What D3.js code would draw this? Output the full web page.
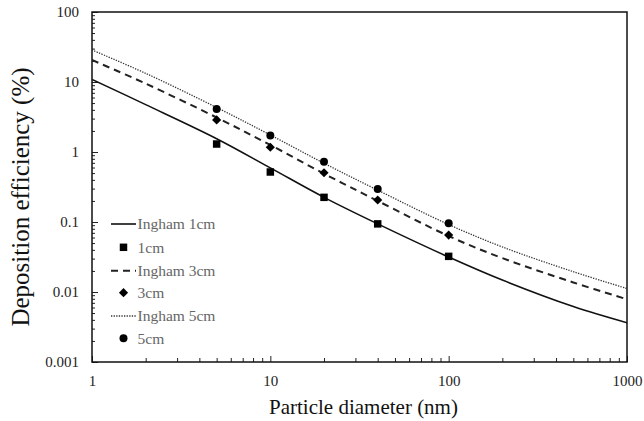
<!DOCTYPE html>
<html><head><meta charset="utf-8">
<script src="https://cdn.jsdelivr.net/npm/d3@7"></script>
<style>body{margin:0;background:#fff}svg{display:block}</style>
</head><body><svg id="c" width="644" height="421"></svg>
<script>
// Curve sample diameters (nm)
const curveD = [1, 2, 5, 10, 20, 40, 100, 200, 500, 1000];
const ingham1 = [10.9, 4.75, 1.55, 0.593, 0.225, 0.094, 0.0316, 0.0148, 0.0062, 0.00364];
const ingham3 = [20.6, 9.49, 3.11, 1.26, 0.49, 0.2, 0.063, 0.0305, 0.0137, 0.00787];
const ingham5 = [28.7, 13.3, 4.32, 1.75, 0.69, 0.285, 0.092, 0.044, 0.0195, 0.0112];
// Measured points
const measD = [5, 10, 20, 40, 100];
const meas1 = [1.30, 0.518, 0.225, 0.094, 0.0323];
const meas3 = [2.87, 1.17, 0.506, 0.206, 0.065];
const meas5 = [4.11, 1.72, 0.727, 0.296, 0.096];
const xTicks = [1, 10, 100, 1000];
const yTicks = [0.001, 0.01, 0.1, 1, 10, 100];
const legendLabels = ["Ingham 1cm", "1cm", "Ingham 3cm", "3cm", "Ingham 5cm", "5cm"];

const FONT = "Liberation Serif";
const svg = d3.select("#c");
const L = 92, R = 627, T = 12, B = 362;
const x = d3.scaleLog().domain([1, 1000]).range([L, R]);
const y = d3.scaleLog().domain([0.001, 100]).range([B, T]);

svg.append("clipPath").attr("id", "clip").append("rect")
  .attr("x", L).attr("y", T).attr("width", R - L).attr("height", B - T);

// minor ticks
const minorX = [];
for (let e = 0; e < 3; e++) for (let m = 2; m <= 9; m++) minorX.push(m * Math.pow(10, e));
const minorY = [];
for (let e = -3; e < 2; e++) for (let m = 2; m <= 9; m++) minorY.push(m * Math.pow(10, e));

const gx = svg.append("g").attr("transform", `translate(0,${B})`);
gx.call(d3.axisBottom(x).tickValues(minorX).tickSize(-4).tickFormat(""));
gx.select(".domain").remove();
const gx2 = svg.append("g").attr("transform", `translate(0,${B})`);
gx2.call(d3.axisBottom(x).tickValues(xTicks).tickSize(-6).tickPadding(13).tickFormat(d3.format("d")));
gx2.select(".domain").remove();
gx2.attr("font-family", FONT);
gx2.selectAll("text").attr("font-size", 15).attr("font-family", FONT).attr("fill", "#222");

const gy = svg.append("g").attr("transform", `translate(${L},0)`);
gy.call(d3.axisLeft(y).tickValues(minorY).tickSize(-3).tickFormat(""));
gy.select(".domain").remove();
const gy2 = svg.append("g").attr("transform", `translate(${L},0)`);
gy2.call(d3.axisLeft(y).tickValues(yTicks).tickSize(-6).tickPadding(13).tickFormat(d => String(d)));
gy2.select(".domain").remove();
gy2.attr("font-family", FONT);
gy2.selectAll("text").attr("font-size", 15).attr("font-family", FONT).attr("fill", "#222");
svg.selectAll(".tick line").attr("stroke", "#222");

// frame
svg.append("rect").attr("x", L).attr("y", T).attr("width", R - L).attr("height", B - T)
  .attr("fill", "none").attr("stroke", "#111").attr("stroke-width", 1.5);

const line = vals => d3.line().x((d, i) => x(curveD[i])).y(d => y(d))
  .curve(d3.curveCatmullRom.alpha(0.5))(vals);
const cg = svg.append("g").attr("clip-path", "url(#clip)");
const styles = [
  {vals: ingham1, w: 1.6, dash: null, col: "#111"},
  {vals: ingham3, w: 2, dash: "7,5", col: "#222"},
  {vals: ingham5, w: 1.3, dash: "1.3,1.3", col: "#333"}
];
styles.forEach(s => {
  cg.append("path").attr("d", line(s.vals)).attr("fill", "none")
    .attr("stroke", s.col).attr("stroke-width", s.w).attr("stroke-dasharray", s.dash);
});

const sym = {
  sq: {p: d3.symbol().type(d3.symbolSquare).size(56)(), r: 0},
  di: {p: d3.symbol().type(d3.symbolSquare).size(42)(), r: 45},
  ci: {p: d3.symbol().type(d3.symbolCircle).size(50)(), r: 0}
};
[[meas1, "sq"], [meas3, "di"], [meas5, "ci"]].forEach(([vals, s]) => {
  svg.append("g").selectAll("path").data(vals).join("path")
    .attr("d", sym[s].p).attr("fill", "#000")
    .attr("transform", (d, i) => `translate(${x(measD[i])},${y(d)}) rotate(${sym[s].r})`);
});

// legend
const rows = [224, 247.3, 270.7, 292.7, 316, 338.3];
const lg = svg.append("g");
legendLabels.forEach((t, i) => {
  const yy = rows[i];
  if (i % 2 === 0) {
    const s = styles[i / 2];
    lg.append("line").attr("x1", 111).attr("x2", 136).attr("y1", yy).attr("y2", yy)
      .attr("stroke", s.col).attr("stroke-width", s.w).attr("stroke-dasharray", s.dash);
  } else {
    const k = ["sq", "di", "ci"][(i - 1) / 2];
    lg.append("path").attr("d", sym[k].p).attr("fill", "#000")
      .attr("transform", `translate(123.5,${yy}) rotate(${sym[k].r})`);
  }
  lg.append("text").attr("x", 137.5).attr("y", yy).attr("dy", "0.35em")
    .attr("font-family", FONT).attr("font-size", 15.5).attr("fill", "#666").text(t);
});

// axis titles
svg.append("text").attr("x", (L + R) / 2 + 4).attr("y", 414).attr("text-anchor", "middle")
  .attr("font-family", FONT).attr("font-size", 21).attr("fill", "#111").text("Particle diameter (nm)");
svg.append("text").attr("transform", "translate(29,197) rotate(-90)").attr("text-anchor", "middle")
  .attr("font-family", FONT).attr("font-size", 25).attr("fill", "#111").text("Deposition efficiency (%)");
</script></body></html>
